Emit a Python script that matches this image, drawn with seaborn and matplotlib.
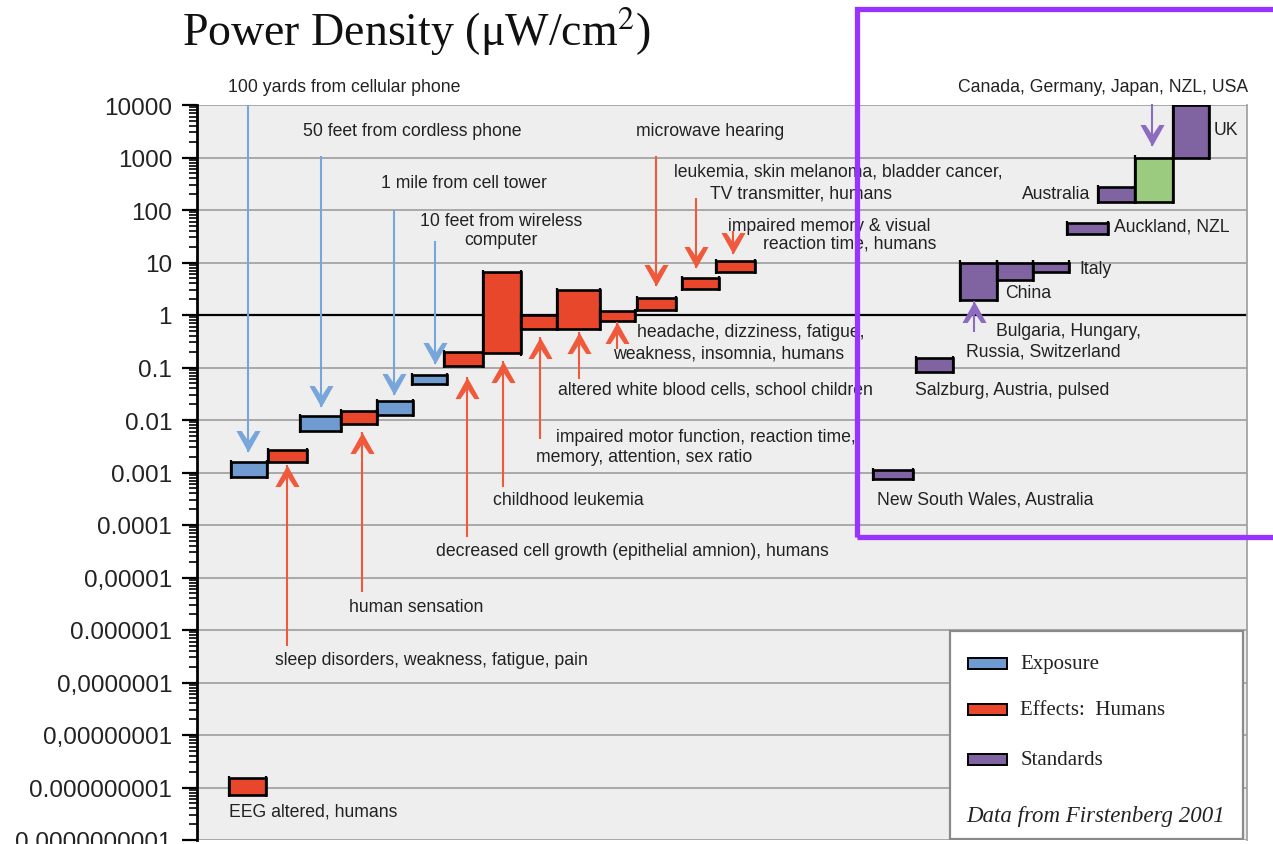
import numpy as np
import pandas as pd
import matplotlib
matplotlib.use("Agg")
import matplotlib.pyplot as plt
from matplotlib.patches import Rectangle
from matplotlib.ticker import FixedLocator, FixedFormatter, LogLocator, NullFormatter
import seaborn as sns

# ---- data (x in column units, y in uW/cm2) ----
exp_left = [0.91, 2.75, 4.80, 5.73]
exp_right = [1.87, 3.84, 5.76, 6.67]
exp_low = [0.00083, 0.0063, 0.0124, 0.049]
exp_high = [0.0016, 0.0117, 0.0233, 0.072]

eff_left = [0.85, 1.89, 3.84, 6.59, 7.63, 8.64, 9.60, 10.75, 11.73, 12.93, 13.84]
eff_right = [1.84, 2.93, 4.80, 7.63, 8.64, 9.60, 10.75, 11.68, 12.77, 13.92, 14.88]
eff_low = [7.3e-10, 0.0016, 0.0084, 0.108, 0.186, 0.54, 0.54, 0.78, 1.24, 3.1, 6.7]
eff_high = [1.5e-9, 0.0027, 0.0146, 0.2, 6.5, 1.0, 3.0, 1.2, 2.1, 5.1, 10.5]

std_left = [18.03, 19.17, 20.35, 21.33, 22.29, 23.20, 24.03, 26.03]
std_right = [19.09, 20.16, 21.33, 22.29, 23.25, 24.29, 25.01, 26.99]
std_low = [0.00075, 0.081, 1.96, 4.7, 6.7, 35, 145, 1000]
std_high = [0.0011, 0.15, 10, 10, 10, 56, 275, 10000]

hl_left = [25.01]
hl_right = [26.03]
hl_low = [145]
hl_high = [1000]

ytick_values = [1e4, 1e3, 1e2, 1e1, 1, 0.1, 0.01, 1e-3, 1e-4, 1e-5, 1e-6, 1e-7, 1e-8, 1e-9, 1e-10]
ytick_labels = ["10000", "1000", "100", "10", "1", "0.1", "0.01", "0.001", "0.0001",
                "0,00001", "0.000001", "0,0000001", "0,00000001", "0.000000001",
                "0.0000000001"]

legend_labels = ["Exposure", "Effects:  Humans", "Standards"]

# ---- styling ----
blue_fill = "#6f9bd1"
red_fill = "#e8472b"
purple_fill = "#8064a2"
green_fill = "#9bcb7e"
arrow_cols = {"b": "#78a6da", "r": "#f05a3c", "p": "#8d6cc0"}
txt_col = "#222222"

sns.set_theme(style="ticks", rc={"axes.facecolor": "#eeeeee", "figure.facecolor": "white"})
plt.rcParams["font.family"] = ["Liberation Sans", "DejaVu Sans"]
plt.rcParams["mathtext.fontset"] = "stix"

df = pd.concat([
    pd.DataFrame({"left": exp_left, "right": exp_right, "low": exp_low, "high": exp_high, "kind": "Exposure"}),
    pd.DataFrame({"left": eff_left, "right": eff_right, "low": eff_low, "high": eff_high, "kind": "Effects"}),
    pd.DataFrame({"left": std_left, "right": std_right, "low": std_low, "high": std_high, "kind": "Standards"}),
    pd.DataFrame({"left": hl_left, "right": hl_right, "low": hl_low, "high": hl_high, "kind": "Highlight"}),
], ignore_index=True)
fills = {"Exposure": blue_fill, "Effects": red_fill, "Standards": purple_fill, "Highlight": green_fill}

fig = plt.figure(figsize=(12.73, 8.45), dpi=100)
ax = fig.add_axes([197 / 1273, 4 / 845, 1050 / 1273, 735 / 845])
ax.set_yscale("log")
ax.set_ylim(1e-10, 1e4)
ax.set_xlim(0, 28)

ax.yaxis.grid(True, which="major", color="#a3a3a3", lw=1.3)
ax.xaxis.grid(False)
ax.set_axisbelow(True)
ax.axhline(1, color="black", lw=1.6, zorder=1)

for _, r in df.iterrows():
    ax.bar(r["left"], r["high"] - r["low"], bottom=r["low"], width=r["right"] - r["left"],
           align="edge", color=fills[r["kind"]], edgecolor="black", lw=1.9, zorder=3)
    # little end caps that poke out past the box
    ax.vlines([r["left"], r["right"]], r["low"] / 1.1, r["high"] * 1.1, color="black", lw=1.6, zorder=3)

# ---- arrows: (x, from log10, to log10, colour) ----
arrows = [
    (1.36, 4.00, -2.61, "b"), (3.31, 3.03, -1.75, "b"), (5.25, 2.00, -1.52, "b"), (6.35, 1.41, -0.93, "b"),
    (2.40, -6.30, -2.86, "r"), (4.40, -5.28, -2.23, "r"), (7.20, -4.23, -1.18, "r"),
    (8.16, -3.28, -0.88, "r"), (9.15, -2.36, -0.42, "r"), (10.19, -1.22, -0.32, "r"),
    (11.20, -0.65, -0.13, "r"), (12.24, 3.03, 0.55, "r"), (13.31, 2.23, 0.90, "r"), (14.29, 1.60, 1.16, "r"),
    (25.47, 4.02, 3.22, "p"), (20.72, -0.32, 0.27, "p"),
]
# swept-back chevron head, tip at the origin
head_down = [(0, 0), (-0.56, 1.0), (-0.32, 1.0), (0, 0.52), (0.32, 1.0), (0.56, 1.0), (0, 0)]
head_up = [(x, -y) for x, y in head_down]
for x, y0, y1, c in arrows:
    ax.vlines(x, 10 ** y0, 10 ** y1, color=arrow_cols[c], lw=1.5, zorder=4, clip_on=False)
    ax.plot([x], [10 ** y1], ls="none", marker=head_down if y1 < y0 else head_up, ms=31,
            mew=0, color=arrow_cols[c], zorder=4, clip_on=False)

# ---- annotation texts: (text, x, log10 y, ha) ----
notes = [
    ("100 yards from cellular phone", 0.83, 4.343, "left"),
    ("50 feet from cordless phone", 2.83, 3.505, "left"),
    ("1 mile from cell tower", 4.91, 2.533, "left"),
    ("10 feet from wireless\ncomputer", 8.11, 1.61, "center"),
    ("sleep disorders, weakness, fatigue, pain", 2.08, -6.571, "left"),
    ("human sensation", 4.05, -5.543, "left"),
    ("decreased cell growth (epithelial amnion), humans", 6.37, -4.495, "left"),
    ("childhood leukemia", 7.89, -3.505, "left"),
    ("impaired motor function, reaction time,", 9.57, -2.305, "left"),
    ("memory, attention, sex ratio", 9.04, -2.686, "left"),
    ("altered white blood cells, school children", 9.63, -1.41, "left"),
    ("headache, dizziness, fatigue,", 11.73, -0.305, "left"),
    ("weakness, insomnia, humans", 11.09, -0.724, "left"),
    ("microwave hearing", 11.71, 3.505, "left"),
    ("leukemia, skin melanoma, bladder cancer,", 12.72, 2.743, "left"),
    ("TV transmitter, humans", 13.68, 2.324, "left"),
    ("impaired memory & visual", 14.16, 1.714, "left"),
    ("reaction time, humans", 15.09, 1.371, "left"),
    ("Canada, Germany, Japan, NZL, USA", 20.29, 4.343, "left"),
    ("Bulgaria, Hungary,", 21.31, -0.286, "left"),
    ("Russia, Switzerland", 20.51, -0.686, "left"),
    ("UK", 27.12, 3.524, "left"),
    ("Australia", 23.81, 2.305, "right"),
    ("Auckland, NZL", 24.45, 1.695, "left"),
    ("Italy", 23.52, 0.895, "left"),
    ("China", 21.55, 0.438, "left"),
    ("Salzburg, Austria, pulsed", 19.15, -1.41, "left"),
    ("New South Wales, Australia", 18.13, -3.505, "left"),
    ("EEG altered, humans", 0.85, -9.448, "left"),
]
for t, x, ly, ha in notes:
    ax.text(x, 10 ** ly, t, ha=ha, va="center", fontsize=12.7, color=txt_col,
            zorder=5, clip_on=False, linespacing=1.15, multialignment="center")

# ---- axes cosmetics ----
ax.yaxis.set_major_locator(FixedLocator(ytick_values))
ax.yaxis.set_major_formatter(FixedFormatter(ytick_labels))
ax.yaxis.set_minor_locator(LogLocator(base=10, subs=np.arange(2, 10), numticks=30))
ax.yaxis.set_minor_formatter(NullFormatter())
ax.tick_params(axis="y", which="major", direction="out", length=11, width=1.6,
               labelsize=17.5, colors="black", labelcolor=txt_col, pad=7)
ax.tick_params(axis="y", which="minor", direction="out", length=6, width=1.2, colors="black")
ax.set_xticks([])
ax.spines["left"].set_color("black")
ax.spines["left"].set_linewidth(2)
ax.spines["right"].set_color("#a3a3a3")
ax.spines["right"].set_linewidth(1.3)
ax.spines["top"].set_visible(False)
ax.spines["bottom"].set_visible(False)

# ---- legend box ----
ax.add_patch(Rectangle((0.717, 0.0014), 0.279, 0.283, transform=ax.transAxes,
                       facecolor="white", edgecolor="#8a8a8a", lw=1.6, zorder=6))
for lab, col, yy in zip(legend_labels, [blue_fill, red_fill, purple_fill], [0.2395, 0.177, 0.110]):
    ax.add_patch(Rectangle((0.7345, yy - 0.0075), 0.037, 0.015, transform=ax.transAxes,
                           facecolor=col, edgecolor="black", lw=1.4, zorder=7))
    ax.text(0.784, yy, lab, transform=ax.transAxes, va="center", ha="left",
            family="Liberation Serif", fontsize=15, color=txt_col, zorder=7)
ax.text(0.7325, 0.034, "Data from Firstenberg 2001", transform=ax.transAxes, va="center",
        ha="left", family="Liberation Serif", style="italic", fontsize=16.5, color=txt_col, zorder=7)

# ---- title ----
fig.text(182 / 1273, 1 - 32 / 845, r"Power Density (μW/cm$^2$)", family="Liberation Serif",
         fontsize=33, va="center", ha="left", color="#111111")

# ---- highlight frame ----
fig.add_artist(Rectangle((857 / 1273, 1 - 538 / 845), 0.4, (538 - 10) / 845, transform=fig.transFigure,
                         fill=False, edgecolor="#9933ff", lw=3.8, zorder=20, clip_on=False))

fig.savefig("out.png", dpi=100)
